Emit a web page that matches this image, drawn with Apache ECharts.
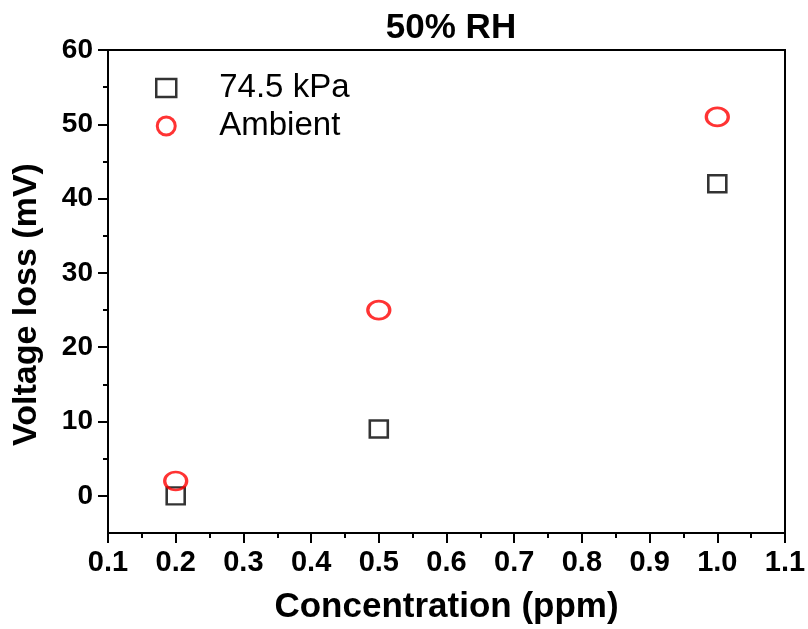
<!DOCTYPE html>
<html>
<head>
<meta charset="utf-8">
<script src="https://cdn.jsdelivr.net/npm/echarts@6/dist/echarts.min.js"></script>
<style>
  html, body { margin: 0; padding: 0; background: #fff; }
  #chart { width: 808px; height: 629px; }
</style>
</head>
<body>
<div id="chart"></div>
<script>
// data
var concentration = [0.2, 0.5, 1.0];
var lowPressure = [0, 9, 42];    // 74.5 kPa
var ambient = [2, 25, 51];       // Ambient
var seriesNames = ["74.5 kPa", "Ambient"];
var yMajorTicks = [0, 10, 20, 30, 40, 50, 60];
var yMinorTicks = [5, 15, 25, 35, 45, 55];

var chart = echarts.init(document.getElementById("chart"));

function pairs(xs, ys) {
  return xs.map(function (x, i) { return [x, ys[i]]; });
}

var font = "'Liberation Sans', Arial, sans-serif";
var black = "#000";

var option = {
  backgroundColor: "#fff",
  animation: false,
  title: {
    text: "50% RH",
    left: 446,
    top: 6,
    textAlign: "center",
    textStyle: { fontFamily: font, fontWeight: "bold", fontSize: 35, color: black }
  },
  legend: {
    orient: "vertical",
    left: 150,
    top: 66,
    itemGap: 4,
    itemWidth: 20,
    itemHeight: 18,
    textStyle: { fontFamily: font, fontSize: 33, color: black, lineHeight: 34, padding: [0, 0, 0, 38] },
    data: [
      { name: seriesNames[0], icon: "rect", itemStyle: { borderWidth: 2.5 } },
      { name: seriesNames[1], icon: "circle", itemStyle: { borderWidth: 3 } }
    ]
  },
  grid: { left: 108, right: 23, top: 50, bottom: 96, containLabel: false, outerBoundsMode: "none" },
  xAxis: {
    type: "value",
    min: 0.1,
    max: 1.1,
    interval: 0.1,
    name: "Concentration (ppm)",
    nameLocation: "middle",
    nameGap: 57,
    nameTextStyle: { fontFamily: font, fontWeight: "bold", fontSize: 35, color: black },
    axisLine: { show: true, onZero: false, lineStyle: { color: black, width: 2 } },
    axisTick: { show: true, inside: false, length: 10, lineStyle: { color: black, width: 2 } },
    minorTick: { show: true, splitNumber: 2, length: 5, lineStyle: { color: black, width: 2 } },
    splitLine: { show: false },
    axisLabel: {
      fontFamily: font, fontWeight: "bold", fontSize: 29, color: black, margin: 15,
      formatter: function (v) { return v.toFixed(1); }
    }
  },
  yAxis: [
    {
      type: "value",
      min: -5,
      max: 60,
      name: "Voltage loss (mV)",
      nameLocation: "middle",
      nameGap: 64,
      nameTextStyle: { fontFamily: font, fontWeight: "bold", fontSize: 34, color: black, padding: [0, 26, 0, 0] },
      axisLine: { show: true, onZero: false, lineStyle: { color: black, width: 2 } },
      axisTick: { show: true, inside: false, length: 10, customValues: yMajorTicks, lineStyle: { color: black, width: 2 } },
      splitLine: { show: false },
      axisLabel: {
        fontFamily: font, fontWeight: "bold", fontSize: 28, color: black, margin: 15,
        customValues: yMajorTicks
      }
    },
    {
      // minor ticks only
      type: "value",
      position: "left",
      min: -5,
      max: 60,
      axisLine: { show: false },
      axisTick: { show: true, inside: false, length: 5, customValues: yMinorTicks, lineStyle: { color: black, width: 2 } },
      axisLabel: { show: false },
      splitLine: { show: false }
    }
  ],
  series: [
    {
      name: seriesNames[0],
      type: "scatter",
      symbol: "rect",
      symbolSize: [18, 17],
      itemStyle: { color: "rgba(0,0,0,0)", borderColor: black, borderWidth: 2.5 },
      data: pairs(concentration, lowPressure)
    },
    {
      name: seriesNames[1],
      type: "scatter",
      symbol: "circle",
      symbolSize: [22, 18],
      itemStyle: { color: "rgba(0,0,0,0)", borderColor: "#ff0000", borderWidth: 3 },
      data: pairs(concentration, ambient)
    }
  ],
  graphic: [
    {
      // top and right frame of the plot box
      type: "polyline",
      shape: { points: [[108, 50], [785, 50], [785, 533]] },
      style: { stroke: black, lineWidth: 2, fill: null },
      silent: true
    }
  ]
};

chart.setOption(option);
window.addEventListener("resize", function () { chart.resize(); });
</script>
</body>
</html>
